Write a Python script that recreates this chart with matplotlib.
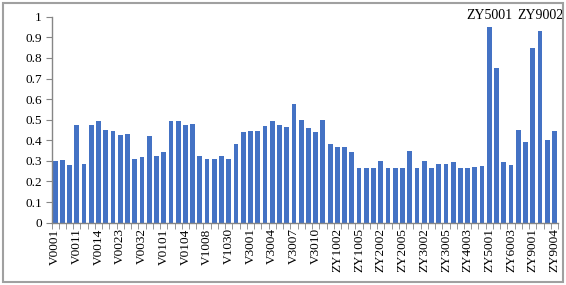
import matplotlib.pyplot as plt
from matplotlib.patches import Rectangle
import numpy as np

plt.rcParams["font.family"] = ["Liberation Serif", "DejaVu Serif"]

# bar heights, left to right (70 samples)
values = [
    0.300, 0.306, 0.280, 0.473, 0.283, 0.473, 0.495, 0.448, 0.443, 0.427,
    0.430, 0.309, 0.320, 0.420, 0.324, 0.345, 0.495, 0.495, 0.476, 0.480,
    0.324, 0.307, 0.309, 0.324, 0.307, 0.383, 0.442, 0.445, 0.445, 0.471,
    0.495, 0.472, 0.464, 0.574, 0.500, 0.460, 0.442, 0.498, 0.382, 0.367,
    0.366, 0.345, 0.264, 0.265, 0.265, 0.298, 0.267, 0.265, 0.267, 0.348,
    0.265, 0.299, 0.265, 0.285, 0.283, 0.294, 0.265, 0.267, 0.270, 0.277,
    0.948, 0.749, 0.294, 0.278, 0.448, 0.390, 0.850, 0.932, 0.401, 0.445,
]

# every third bar carries a label
tick_labels = [
    "V0001", "V0011", "V0014", "V0023", "V0032", "V0101", "V0104", "V1008",
    "V1030", "V3001", "V3004", "V3007", "V3010", "ZY1002", "ZY1005", "ZY2002",
    "ZY2005", "ZY3002", "ZY3005", "ZY4003", "ZY5001", "ZY6003", "ZY9001", "ZY9004",
]

# highlighted samples: (bar index, name)
highlights = [(60, "ZY5001"), (67, "ZY9002")]

fig = plt.figure(figsize=(5.66, 2.85), dpi=100)
ax = fig.add_axes([0.091, 0.2186, 0.895, 0.7228])

x = np.arange(len(values))
ax.bar(x, values, width=0.66, color="#4472C4", zorder=2)

ax.set_xlim(-0.5, len(values) - 0.5)
ax.set_ylim(0, 1)
ax.set_yticks(np.arange(0, 1.01, 0.1))
ax.set_yticklabels(["0", "0.1", "0.2", "0.3", "0.4", "0.5", "0.6", "0.7", "0.8", "0.9", "1"])

ax.set_xticks(x[::3])
ax.set_xticklabels(tick_labels, rotation=90)
ax.set_xticks(np.arange(-0.5, len(values), 1.0), minor=True)

grey = "#868686"
for s in ("top", "right"):
    ax.spines[s].set_visible(False)
for s in ("left", "bottom"):
    ax.spines[s].set_color(grey)
    ax.spines[s].set_linewidth(1.0)

ax.tick_params(axis="y", length=4, color=grey, labelsize=9.5, pad=3)
ax.tick_params(axis="x", which="major", length=0, labelsize=9.5, pad=4)
ax.tick_params(axis="x", which="minor", length=4, color=grey)

for i, name in highlights:
    ax.text(i, 0.99, name, ha="center", va="baseline", fontsize=10, clip_on=False)

# outer frame around the whole chart
fig.patches.append(Rectangle((0.006, 0.012), 0.988, 0.976, transform=fig.transFigure,
                             fill=False, edgecolor="#A0A0A0", linewidth=1.5))

fig.savefig("out.png", dpi=100)
